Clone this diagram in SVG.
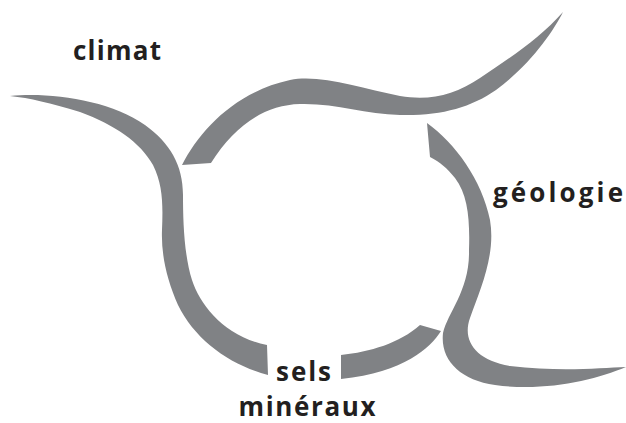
<svg xmlns="http://www.w3.org/2000/svg" width="626" height="423" viewBox="0 0 626 423">
  <style>
    .sw { fill: #808285; stroke: none; }
    .lbl { font-family: "Open Sans", "Liberation Sans", sans-serif; font-weight: 700; font-size: 26px; fill: #231f20; text-anchor: middle; }
  </style>
  <rect width="626" height="423" fill="#ffffff"/>
  <g id="connectors">
    <path id="swoosh-left" class="sw" d="M10,96 C50,92 110,100 145,125 C170,143 183,165 183,195 C183,220 184,255 192,280 C200,305 225,337 267,345 L268,375 C230,365 195,340 178,305 C167,280 161,255 162,230 C163,205 163,185 153,165 C140,142 115,125 80,112 C50,103 30,98 10,96 Z"/>
    <path id="swoosh-top" class="sw" d="M182,165 C200,130 235,92 290,80 C320,74 360,88 400,96 C430,101 455,95 480,78 C510,58 540,38 563,12 C553,32 530,65 496,90 C470,108 440,116 400,115 C365,114 335,103 300,104 C265,105 235,125 211,163 Z"/>
    <path id="swoosh-right" class="sw" d="M427,123 C455,143 482,180 490,220 C496,255 480,290 470,318 C462,340 475,360 510,366 C560,372 600,368 626,367 C595,380 545,392 495,385 C460,380 440,360 443,333 C448,312 470,290 469,250 C470,220 468,195 455,178 C447,168 440,162 430,157 Z"/>
    <path id="swoosh-bottom" class="sw" d="M341,355 C370,352 400,343 420,325 L441,331 C430,348 405,372 341,379 Z"/>
  </g>
  <g id="climat"><text class="lbl" x="117" y="60" textLength="88" lengthAdjust="spacing">climat</text></g>
  <g id="geologie"><text class="lbl" x="558" y="202" textLength="130" lengthAdjust="spacing">géologie</text></g>
  <g id="sels-mineraux">
    <text class="lbl" x="303.5" y="381" textLength="55" lengthAdjust="spacing">sels</text>
    <text class="lbl" x="307" y="416" textLength="137" lengthAdjust="spacing">minéraux</text>
  </g>
</svg>
